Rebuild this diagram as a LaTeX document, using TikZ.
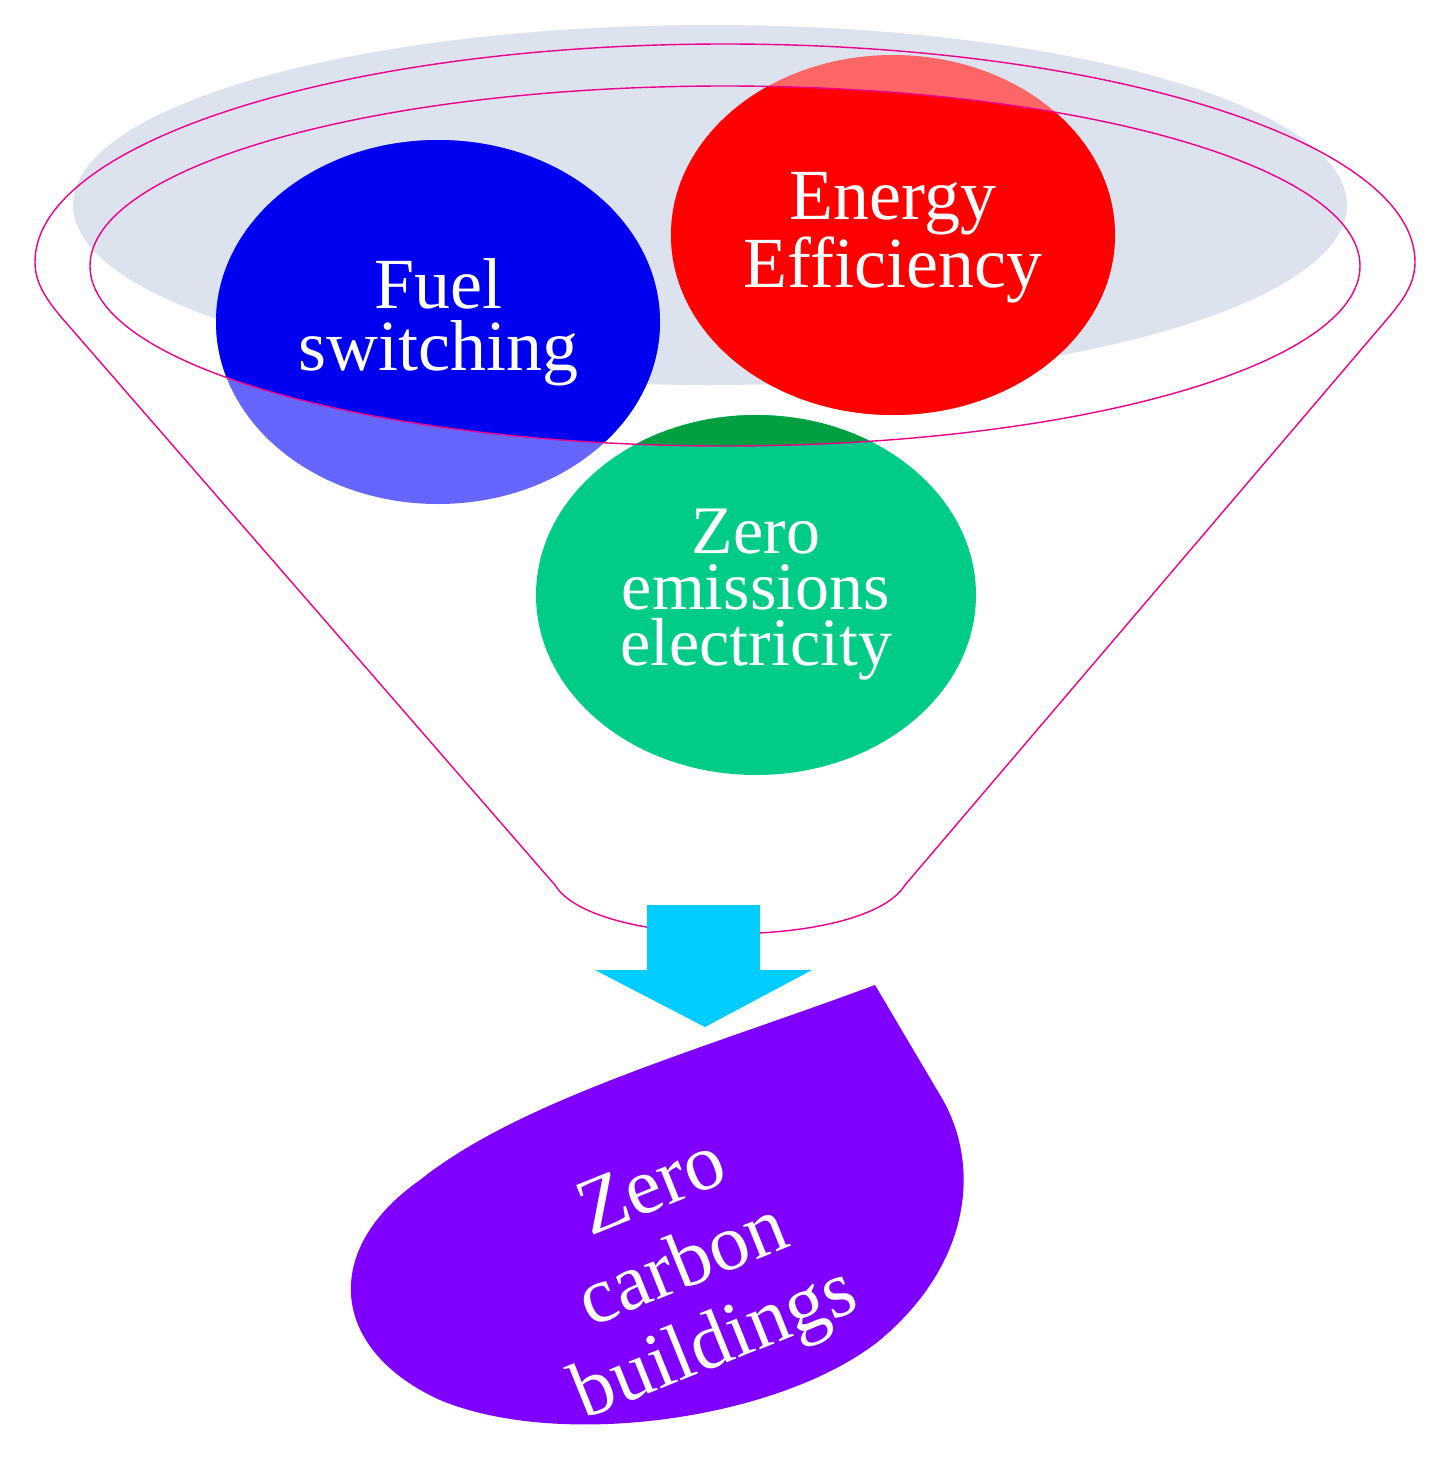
\documentclass[tikz,border=0pt]{standalone}
\usepackage{fontspec}
\setmainfont{Liberation Serif}
\begin{document}
\begin{tikzpicture}[x=0.5pt,y=-0.5pt,
  lbl/.style={text=white,align=center,font=\fontsize{36}{31}\selectfont},
  funnel/.style={draw=magenta,line width=0.7pt}]
\useasboundingbox (0,0) rectangle (1455,1462);
\definecolor{rim}{HTML}{DCE2EE}
\definecolor{blu}{HTML}{0000F0}
\definecolor{lblu}{HTML}{6666FF}
\definecolor{rd}{HTML}{FF0000}
\definecolor{lrd}{HTML}{FF6666}
\definecolor{gr}{HTML}{00CC88}
\definecolor{dgr}{HTML}{00A040}
\definecolor{cy}{HTML}{00CCFF}
\definecolor{pu}{HTML}{7F00FF}
\fill[rim] (710,205) ellipse [x radius=637, y radius=180];
\fill[lblu] (438,322) ellipse [x radius=222, y radius=182];
\fill[lrd] (893,235) ellipse [x radius=222, y radius=180];
\fill[gr] (756,595) ellipse [x radius=220, y radius=180];
\begin{scope}
\clip (725,266) ellipse [x radius=635, y radius=180];
\fill[blu] (438,322) ellipse [x radius=222, y radius=182];
\fill[rd] (893,235) ellipse [x radius=222, y radius=180];
\fill[dgr] (756,595) ellipse [x radius=220, y radius=180];
\end{scope}
\node[lbl] (fuel) at (438,322) {Fuel\\switching};
\node[lbl] (eff) at (893,238) {Energy\\Efficiency};
\node[lbl,font=\fontsize{34}{28}\selectfont] (zee) at (756,595) {Zero\\emissions\\electricity};
% funnel
\draw[funnel] (725,266) ellipse [x radius=635, y radius=180];
\draw[funnel] (555,885) -- (62,318) .. controls (45,298) and (35,282) .. (35,262)
  arc[start angle=180, end angle=360, x radius=690, y radius=218]
  .. controls (1415,282) and (1405,298) .. (1388,318)
  -- (905,885)
  .. controls (865,950) and (595,950) .. (555,885);
% arrow
\fill[cy] (647,905) -- (760,905) -- (760,970) -- (812,970) -- (705,1027) -- (595,970) -- (647,970) -- cycle;
% purple leaf
\fill[pu] (875,985) -- (940,1095) .. controls (980,1160) and (975,1260) .. (880,1340)
  .. controls (780,1420) and (560,1450) .. (440,1400)
  .. controls (330,1350) and (320,1250) .. (420,1180)
  .. controls (520,1100) and (700,1050) .. cycle;
\node[lbl,rotate=22,font=\fontsize{40}{42}\selectfont] (zcb) at (685,1270) {Zero\\carbon\\buildings};
\end{tikzpicture}
\end{document}
